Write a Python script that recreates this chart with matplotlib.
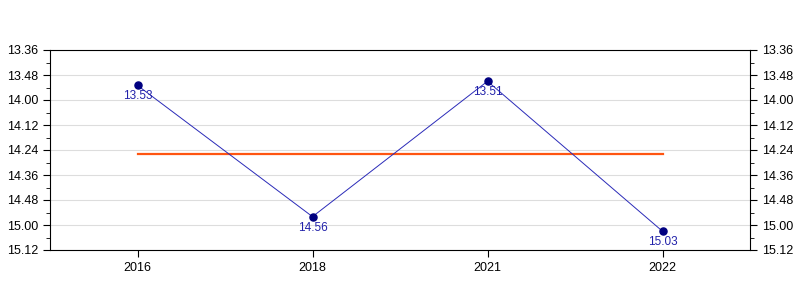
import matplotlib
matplotlib.use("Agg")
import matplotlib.pyplot as plt
from matplotlib.ticker import FixedLocator, FuncFormatter, MultipleLocator

plt.rcParams['font.family'] = ['Liberation Sans', 'DejaVu Sans']

years = ["2016", "2018", "2021", "2022"]
times = ["13.53", "14.56", "13.51", "15.03"]  # minutes.seconds


def to_sec(t):
    m, s = t.split(".")
    return int(m) * 60 + int(s)


secs = [to_sec(t) for t in times]
avg = sum(secs) / len(secs)

fig = plt.figure(figsize=(8, 3), dpi=100)
ax = fig.add_axes([50 / 800, 50 / 300, 700 / 800, 200 / 300])
x = list(range(len(years)))

ax.plot(x, secs, color='#2a2ab8', lw=0.7, zorder=3)
ax.scatter(x, secs, s=26, color='#000080', zorder=4)
for xi, s, t in zip(x, secs, times):
    ax.annotate(t, (xi, s), xytext=(0, -3.5), textcoords='offset points',
                ha='center', va='top', fontsize=8.5, color='#2222aa', zorder=5)
ax.plot([x[0], x[-1]], [avg, avg], color='#ff5511', lw=1.6, zorder=2)

ax.set_xlim(-0.5, len(years) - 0.5)
ax.set_xticks(x)
ax.set_xticklabels(years)
ax.set_ylim(912, 816)
ax.yaxis.set_major_locator(FixedLocator(list(range(816, 913, 12))))
ax.yaxis.set_minor_locator(MultipleLocator(6))
fmt = FuncFormatter(lambda v, p: f"{int(v)//60}.{int(v)%60:02d}")
ax.yaxis.set_major_formatter(fmt)
ax.tick_params(axis='y', which='both', left=True, right=True, labelleft=True, labelright=True,
               labelsize=9, direction='out')
ax.tick_params(axis='y', which='major', length=5)
ax.tick_params(axis='y', which='minor', length=3)
ax.tick_params(axis='x', labelsize=9, length=5)
ax.grid(axis='y', which='major', color='#dddddd', lw=0.8)
ax.set_axisbelow(True)
for sp in ax.spines.values():
    sp.set_color('black')
    sp.set_linewidth(0.8)

fig.savefig("out.png", dpi=100)
